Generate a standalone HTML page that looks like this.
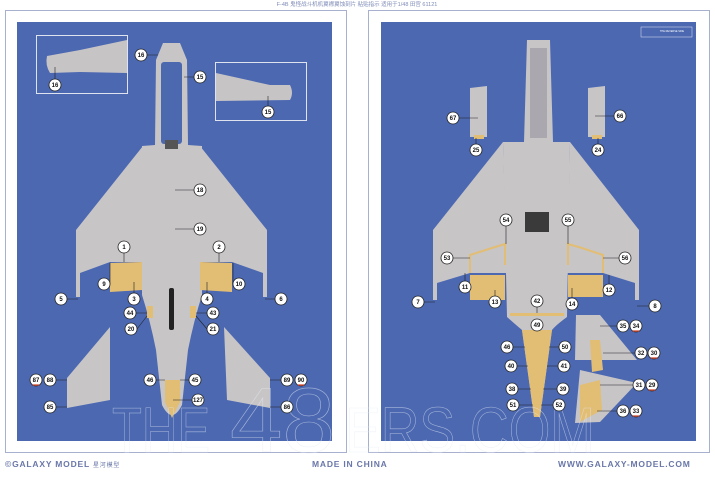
<!DOCTYPE html>
<html><head><meta charset="utf-8"><style>
html,body{margin:0;padding:0;background:#fff;}
svg{display:block;font-family:"Liberation Sans","Noto Sans CJK SC",sans-serif;}
.l circle{fill:#fff;stroke:#222;stroke-width:0.8}
.l text{font-size:6px;text-anchor:middle;fill:#111;font-weight:bold}
</style></head><body>
<svg width="715" height="477" viewBox="0 0 715 477" xmlns="http://www.w3.org/2000/svg">
<text x="357" y="6" font-size="5.5" fill="#7f8cb8" text-anchor="middle">F-4B 鬼怪战斗机机翼襟翼蚀刻片 粘贴指示 适用于1/48 田宫 61121</text>
<rect x="5.5" y="10.5" width="341" height="442" fill="#fff" stroke="#a7b0cf"/>
<rect x="368.5" y="10.5" width="341" height="442" fill="#fff" stroke="#a7b0cf"/>
<rect x="17" y="22" width="315" height="419" fill="#4b68b1"/>
<rect x="381" y="22" width="315" height="419" fill="#4b68b1"/>

<g fill="#c8c5c7">
<polygon points="143,146 76,230 76,297 80,297 80,273 110,262 143,262"/>
<polygon points="200,146 267,230 267,297 263,297 263,273 232,262 200,262"/>
<path d="M163,43 L180,43 L187,60 L188,145 L202,146 L202,295 Q194,320 188,350 L182,405 Q172,425 162,405 L156,350 Q150,320 142,295 L142,146 L155,145 L156,60 Z"/>
<polygon points="110,327 110,400 67,408 67,378"/>
<polygon points="224,327 227,400 270,408 270,378"/>
</g>
<rect x="161" y="62" width="21" height="82" fill="#4c69b0" rx="3"/>
<rect x="165" y="140" width="13" height="9" fill="#555"/>
<rect x="169" y="288" width="5" height="42" fill="#222" rx="2"/>
<g fill="#e2bd74">
<polygon points="110,263 142,262 142,290 110,292"/>
<polygon points="200,262 232,263 232,292 200,290"/>
<polygon points="165,380 180,380 180,402 172,418 165,402"/>
<rect x="147" y="306" width="6" height="12"/>
<rect x="190" y="306" width="6" height="12"/>
</g>
<rect x="36.5" y="35.5" width="91" height="58" fill="#4b68b1" stroke="#dfe3ef"/>
<path d="M47,56 L80,50 L127,40 L127,73 L80,72 L50,73 Q45,65 47,56Z" fill="#c7c4c6"/>
<rect x="215.5" y="62.5" width="91" height="58" fill="#4b68b1" stroke="#dfe3ef"/>
<path d="M216,73 L270,85 L290,85 Q294,93 290,100 L216,101Z" fill="#c7c4c6"/>

<g fill="#c8c5c7">
<polygon points="470,88 487,86 487,137 470,137"/>
<polygon points="588,88 605,86 605,137 588,137"/>
<polygon points="503,142 433,230 433,300 437,300 437,283 470,273 507,273"/>
<polygon points="570,142 639,230 639,300 635,300 635,283 603,273 567,273"/>
<path d="M527,40 L550,40 L553,142 L570,142 L567,317 Q556,325 552,330 L540,417 L534,417 L522,330 Q516,325 507,317 L503,142 L524,142 Z"/>
<polygon points="576,315 600,315 637,360 575,360"/>
<polygon points="580,370 637,383 600,422 575,423"/>
</g>
<rect x="530" y="48" width="17" height="90" fill="#aaa8ae"/>
<polygon points="525,212 549,212 549,232 525,232" fill="#3a3a3a"/>
<g fill="#e2bd74">
<polygon points="470,275 505,275 505,300 470,300"/>
<polygon points="568,275 603,275 603,297 568,297"/>
<path d="M522,330 L552,330 L540,417 L534,417Z"/>
<rect x="510" y="313" width="54" height="3"/>
<polygon points="590,340 600,340 603,370 592,372"/>
<polygon points="580,385 600,380 602,410 580,422"/>
<rect x="474" y="135" width="10" height="4"/>
<rect x="592" y="135" width="10" height="4"/>
</g>
<g fill="none" stroke="#e2bd74" stroke-width="2">
<path d="M470,273 L470,255 L492,248 L505,244 L505,265"/>
<path d="M603,273 L603,255 L582,248 L568,244 L568,265"/>
</g>
<rect x="641" y="27" width="51" height="10" fill="#4b68b1" stroke="#cfd5ea" stroke-width="0.6"/>
<text x="672" y="32" font-size="2.5" fill="#fff" text-anchor="middle">THE REVERSE SIDE</text>

<g fill="none" stroke="#e6eaf4" stroke-width="0.6" opacity="0.6">
<text x="112" y="452" font-size="64" textLength="98" lengthAdjust="spacingAndGlyphs">THE</text>
<text x="230" y="452" font-size="92" textLength="105" lengthAdjust="spacingAndGlyphs">48</text>
<text x="345" y="452" font-size="64" textLength="250" lengthAdjust="spacingAndGlyphs">ERS.COM</text>
</g>

<g stroke="#222" stroke-width="0.6" fill="none">
<path d="M147,55 L158,55 M194,77 L184,77 M194,190 L175,190 M194,229 L175,229 M124,253 L124,262 M219,253 L219,262 M110,284 L110,263 M233,284 L233,263 M67,299 L78,299 M134,293 L134,282 M207,293 L207,282 M275,299 L265,299 M136,313 L147,313 M207,313 L196,313 M137,329 L147,316 M207,329 L196,316 M56,380 L67,380 M156,380 L165,380 M189,380 L180,380 M281,380 L270,380 M56,407 L67,407 M281,407 L270,407 M192,400 L173,400 M55,79 L55,67 M268,106 L268,96"/>
<path d="M459,118 L478,118 M614,116 L595,116 M476,144 L476,138 M598,144 L598,138 M506,226 L506,244 M568,226 L568,244 M453,258 L470,258 M619,258 L603,258 M465,281 L465,273 M609,284 L609,275 M424,302 L435,302 M495,296 L495,290 M572,298 L572,288 M649,306 L637,306 M537,307 L537,313 M617,326 L600,326 M513,347 L525,347 M559,347 L549,347 M635,353 L603,353 M517,366 L528,366 M558,366 L547,366 M633,385 L600,385 M518,389 L531,389 M557,389 L543,389 M519,405 L533,405 M553,405 L541,405 M617,411 L597,411"/>
</g>
<g class="l">
<g><circle cx="141" cy="55" r="6"/><text x="141" y="57">16</text></g>
<g><circle cx="200" cy="77" r="6"/><text x="200" y="79">15</text></g>
<g><circle cx="55" cy="85" r="6"/><text x="55" y="87">16</text></g>
<g><circle cx="268" cy="112" r="6"/><text x="268" y="114">15</text></g>
<g><circle cx="200" cy="190" r="6"/><text x="200" y="192">18</text></g>
<g><circle cx="200" cy="229" r="6"/><text x="200" y="231">19</text></g>
<g><circle cx="124" cy="247" r="6"/><text x="124" y="249">1</text></g>
<g><circle cx="219" cy="247" r="6"/><text x="219" y="249">2</text></g>
<g><circle cx="104" cy="284" r="6"/><text x="104" y="286">9</text></g>
<g><circle cx="239" cy="284" r="6"/><text x="239" y="286">10</text></g>
<g><circle cx="61" cy="299" r="6"/><text x="61" y="301">5</text></g>
<g><circle cx="134" cy="299" r="6"/><text x="134" y="301">3</text></g>
<g><circle cx="207" cy="299" r="6"/><text x="207" y="301">4</text></g>
<g><circle cx="281" cy="299" r="6"/><text x="281" y="301">6</text></g>
<g><circle cx="130" cy="313" r="6"/><text x="130" y="315">44</text></g>
<g><circle cx="213" cy="313" r="6"/><text x="213" y="315">43</text></g>
<g><circle cx="131" cy="329" r="6"/><text x="131" y="331">20</text></g>
<g><circle cx="213" cy="329" r="6"/><text x="213" y="331">21</text></g>
<g><circle cx="36" cy="380" r="6"/><text x="36" y="382">87</text></g>
<g><circle cx="50" cy="380" r="6"/><text x="50" y="382">88</text></g>
<g><circle cx="150" cy="380" r="6"/><text x="150" y="382">46</text></g>
<g><circle cx="195" cy="380" r="6"/><text x="195" y="382">45</text></g>
<g><circle cx="287" cy="380" r="6"/><text x="287" y="382">89</text></g>
<g><circle cx="301" cy="380" r="6"/><text x="301" y="382">90</text></g>
<g><circle cx="198" cy="400" r="6"/><text x="198" y="402">127</text></g>
<g><circle cx="50" cy="407" r="6"/><text x="50" y="409">85</text></g>
<g><circle cx="287" cy="407" r="6"/><text x="287" y="409">86</text></g>
<g><circle cx="453" cy="118" r="6"/><text x="453" y="120">67</text></g>
<g><circle cx="620" cy="116" r="6"/><text x="620" y="118">66</text></g>
<g><circle cx="476" cy="150" r="6"/><text x="476" y="152">25</text></g>
<g><circle cx="598" cy="150" r="6"/><text x="598" y="152">24</text></g>
<g><circle cx="506" cy="220" r="6"/><text x="506" y="222">54</text></g>
<g><circle cx="568" cy="220" r="6"/><text x="568" y="222">55</text></g>
<g><circle cx="447" cy="258" r="6"/><text x="447" y="260">53</text></g>
<g><circle cx="625" cy="258" r="6"/><text x="625" y="260">56</text></g>
<g><circle cx="465" cy="287" r="6"/><text x="465" y="289">11</text></g>
<g><circle cx="609" cy="290" r="6"/><text x="609" y="292">12</text></g>
<g><circle cx="418" cy="302" r="6"/><text x="418" y="304">7</text></g>
<g><circle cx="495" cy="302" r="6"/><text x="495" y="304">13</text></g>
<g><circle cx="572" cy="304" r="6"/><text x="572" y="306">14</text></g>
<g><circle cx="655" cy="306" r="6"/><text x="655" y="308">8</text></g>
<g><circle cx="537" cy="301" r="6"/><text x="537" y="303">42</text></g>
<g><circle cx="537" cy="325" r="6"/><text x="537" y="327">49</text></g>
<g><circle cx="623" cy="326" r="6"/><text x="623" y="328">35</text></g>
<g><circle cx="636" cy="326" r="6"/><text x="636" y="328">34</text></g>
<g><circle cx="507" cy="347" r="6"/><text x="507" y="349">46</text></g>
<g><circle cx="565" cy="347" r="6"/><text x="565" y="349">50</text></g>
<g><circle cx="641" cy="353" r="6"/><text x="641" y="355">32</text></g>
<g><circle cx="654" cy="353" r="6"/><text x="654" y="355">30</text></g>
<g><circle cx="511" cy="366" r="6"/><text x="511" y="368">40</text></g>
<g><circle cx="564" cy="366" r="6"/><text x="564" y="368">41</text></g>
<g><circle cx="639" cy="385" r="6"/><text x="639" y="387">31</text></g>
<g><circle cx="652" cy="385" r="6"/><text x="652" y="387">29</text></g>
<g><circle cx="512" cy="389" r="6"/><text x="512" y="391">38</text></g>
<g><circle cx="563" cy="389" r="6"/><text x="563" y="391">39</text></g>
<g><circle cx="513" cy="405" r="6"/><text x="513" y="407">51</text></g>
<g><circle cx="559" cy="405" r="6"/><text x="559" y="407">52</text></g>
<g><circle cx="623" cy="411" r="6"/><text x="623" y="413">36</text></g>
<g><circle cx="636" cy="411" r="6"/><text x="636" y="413">33</text></g>
</g>
<g stroke="#d9452b" stroke-width="1.2">
<path d="M33,385 L39,385 M298,385 L304,385 M633,331 L639,331 M651,358 L657,358 M649,390 L655,390 M633,416 L639,416"/>
</g>
<g font-size="8.5" fill="#6a77a8" font-weight="bold" letter-spacing="0.8">
<text x="5" y="467">©GALAXY MODEL <tspan font-size="6" font-weight="normal">星河模型</tspan></text>
<text x="312" y="467">MADE IN CHINA</text>
<text x="558" y="467">WWW.GALAXY-MODEL.COM</text>
</g>
</svg>
</body></html>
